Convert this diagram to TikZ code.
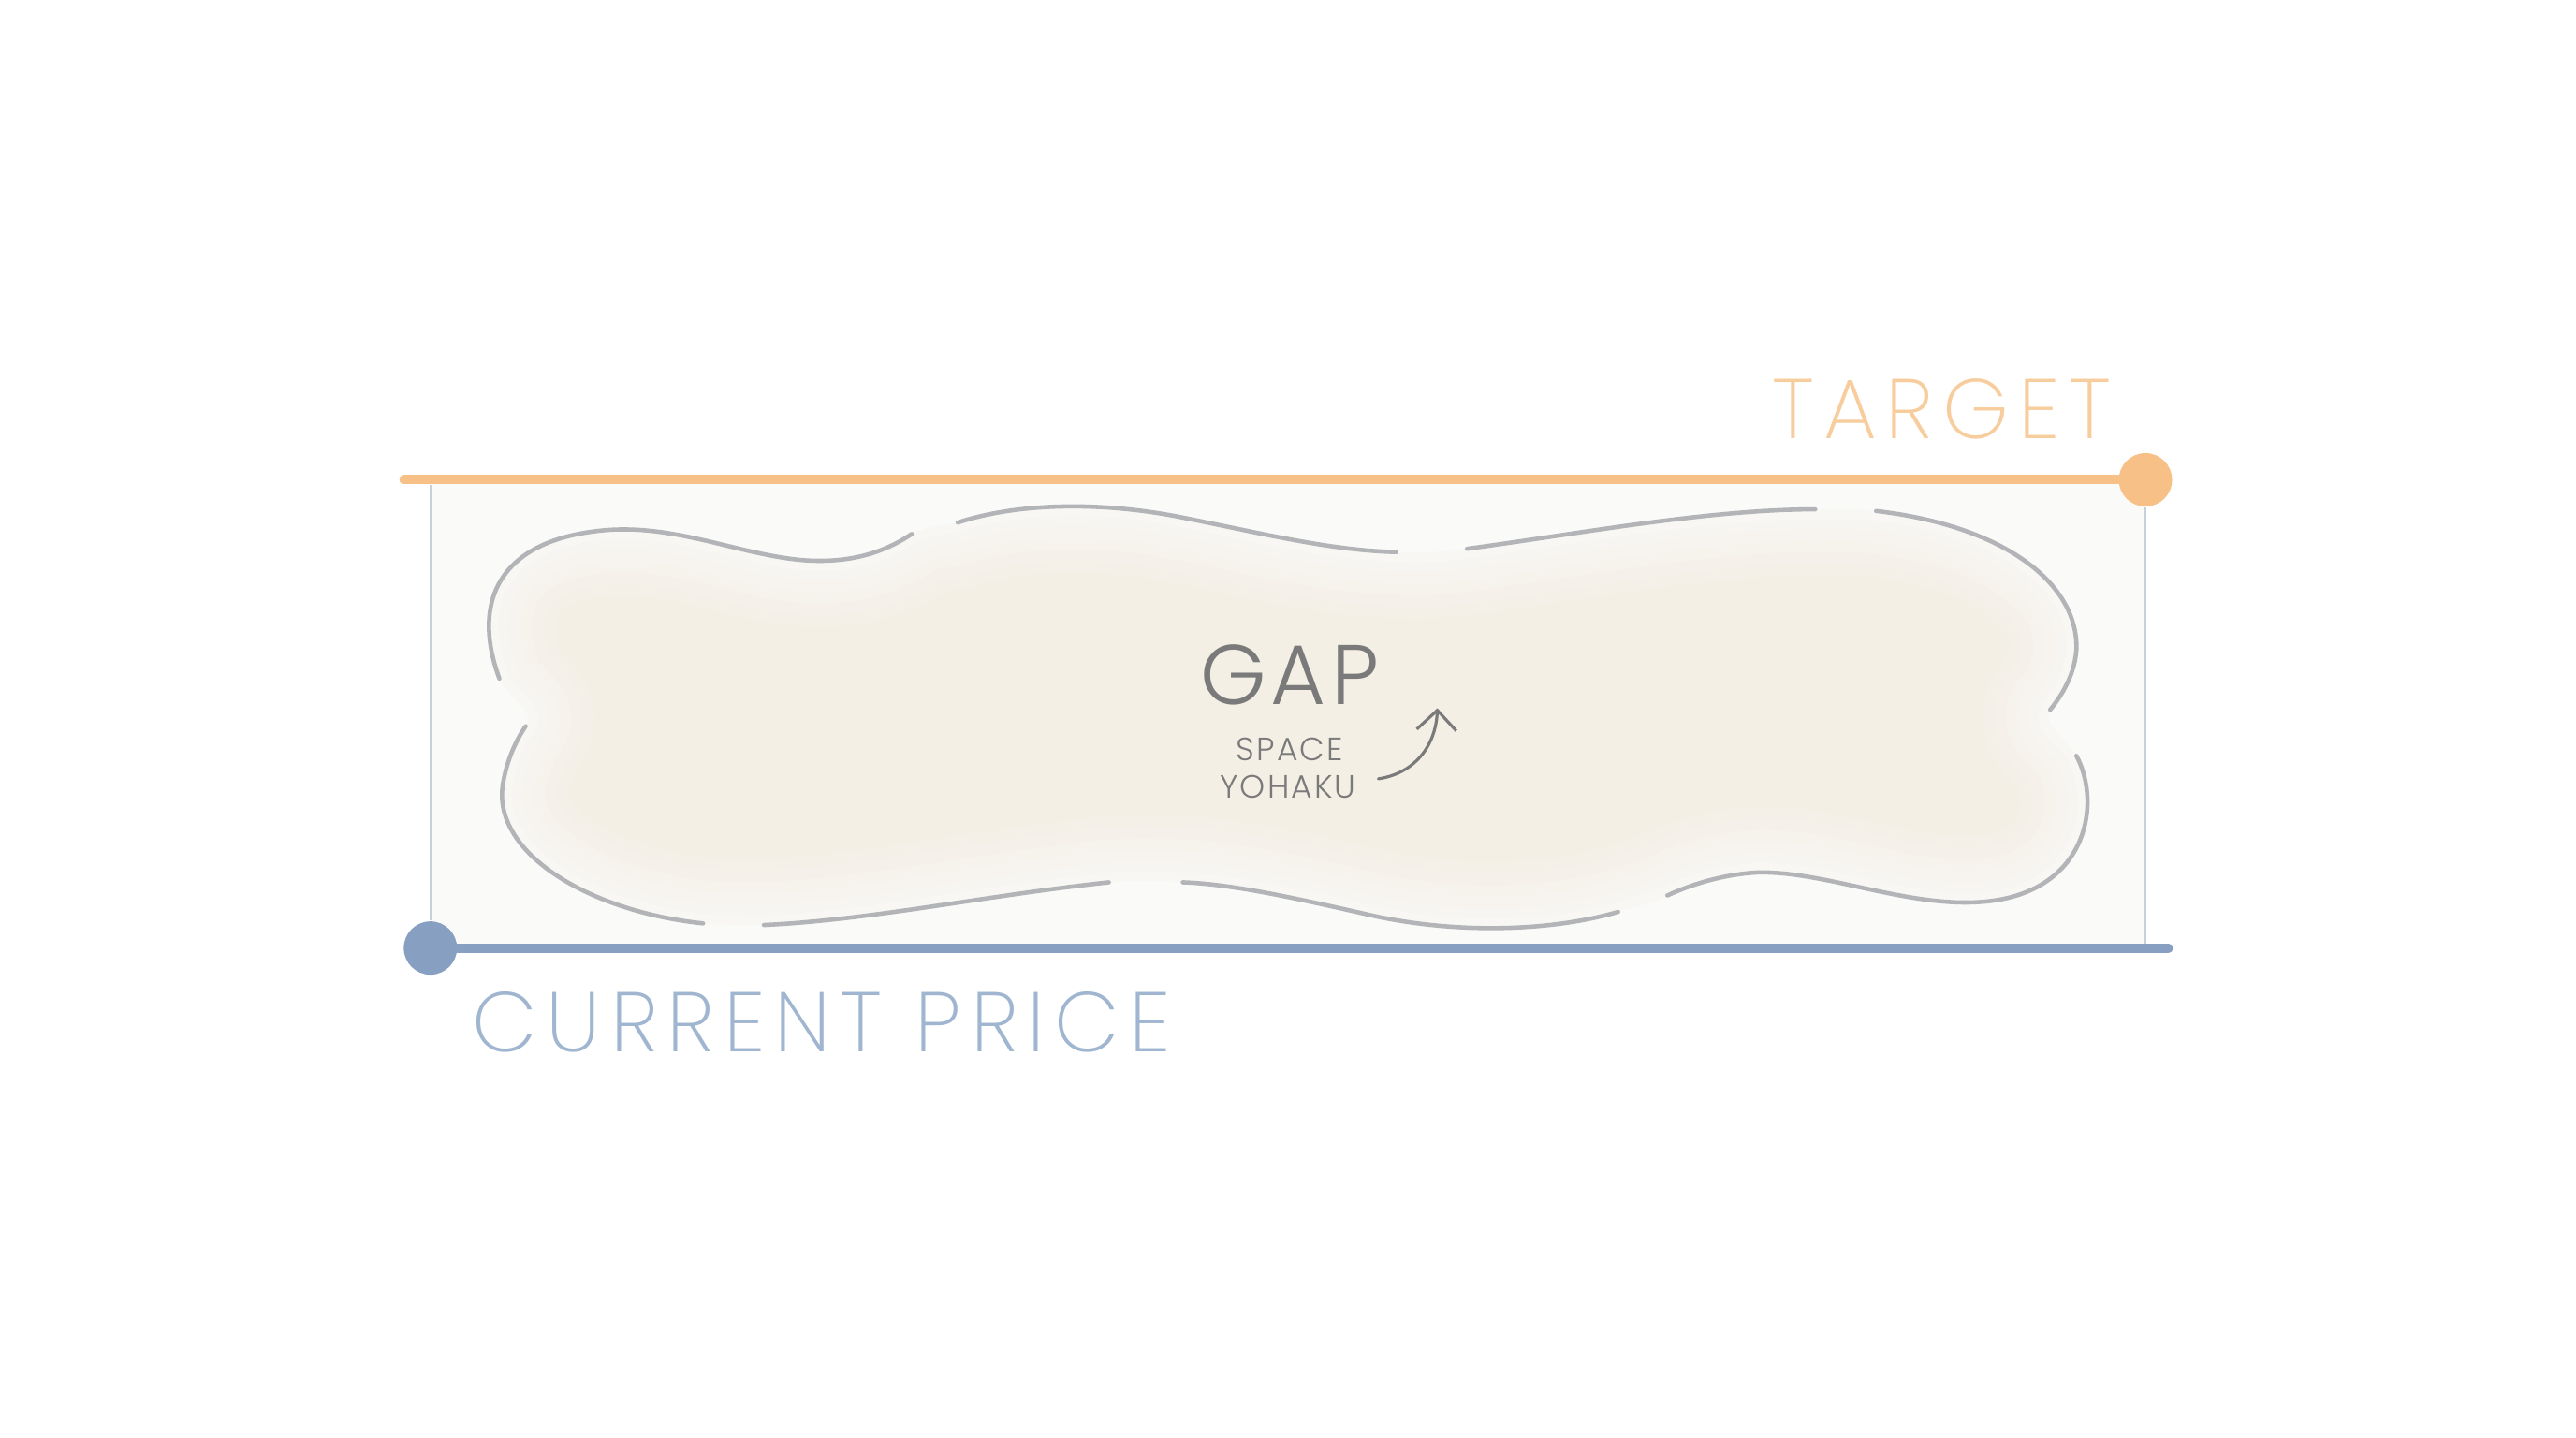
\documentclass[tikz,border=0pt]{standalone}
\usepackage{fontspec}
\usetikzlibrary{arrows.meta}
\IfFontExistsTF{Poppins Light}{\def\lname{Poppins Light}}{\def\lname{Poppins}}
\IfFontExistsTF{Poppins ExtraLight}{\def\xlname{Poppins ExtraLight}}{\let\xlname\lname}
\newfontfamily\bigfont{\xlname}[LetterSpace=11]
\newfontfamily\gapfont{\lname}[LetterSpace=6]
\newfontfamily\smallfont{\lname}[LetterSpace=6]
\definecolor{orangeline}{RGB}{246,192,135}
\definecolor{orangetext}{RGB}{248,205,158}
\definecolor{blueline}{RGB}{135,160,194}
\definecolor{bluetext}{RGB}{160,182,208}
\definecolor{cloudgray}{RGB}{178,180,184}
\definecolor{textgray}{RGB}{122,122,122}
\definecolor{boxbg}{RGB}{250,250,248}
\definecolor{blobfill}{RGB}{243,239,228}
\definecolor{guide}{RGB}{200,208,218}
\begin{document}
\begin{tikzpicture}[x=0.01755cm,y=-0.01755cm,
  priceline/.style={line width=2.85pt,line cap=round},
  enddot/.style={circle,inner sep=0pt,minimum size=16.2pt},
  guideline/.style={guide,line width=0.5pt},
  cloudseg/.style={cloudgray,line width=1.3pt,line cap=round},
  softedge/.style={boxbg,line join=round},
  bigtext/.style={inner sep=0pt,anchor=base,font=\bigfont\fontsize{25.7}{30}\selectfont},
  gaptext/.style={inner sep=0pt,anchor=base,text=textgray,font=\gapfont\fontsize{25.7}{30}\selectfont},
  smalltext/.style={inner sep=0pt,anchor=base,text=textgray,font=\smallfont\fontsize{9.8}{12}\selectfont},
  curvearrow/.style={textgray,line width=0.9pt,line cap=round,-{Straight Barb[length=6pt,width=12pt,line width=0.9pt]}}
]
\useasboundingbox (0,0) rectangle (1568.1,875.2);
\fill[white] (0,0) rectangle (1568.1,875.2);

% faint box
\fill[boxbg] (262,292) rectangle (1306,577);

% blob outline path (closed)
\def\blobpath{(304,413) .. controls (288,370) and (300,330) .. (365,323)
  .. controls (410,318) and (450,338) .. (490,341)
  .. controls (520,343) and (540,335) .. (555,325)
  .. controls (565,320) and (573,320) .. (583,318)
  .. controls (620,306) and (670,305) .. (720,315)
  .. controls (770,325) and (810,335) .. (850,336)
  .. controls (865,337) and (880,336) .. (893,334)
  .. controls (960,325) and (1040,310) .. (1105,310)
  .. controls (1118,310) and (1130,310) .. (1142,311)
  .. controls (1220,320) and (1265,355) .. (1264,395)
  .. controls (1263,410) and (1256,422) .. (1248,432)
  .. controls (1243,442) and (1258,450) .. (1264,460)
  .. controls (1280,490) and (1270,545) .. (1205,549)
  .. controls (1160,552) and (1110,530) .. (1070,531)
  .. controls (1050,532) and (1030,538) .. (1015,545)
  .. controls (1005,550) and (995,552) .. (985,555)
  .. controls (940,568) and (880,568) .. (830,556)
  .. controls (790,547) and (750,538) .. (720,537)
  .. controls (705,536) and (690,536) .. (675,537)
  .. controls (600,545) and (530,560) .. (465,563)
  .. controls (450,563) and (440,563) .. (428,562)
  .. controls (360,555) and (300,520) .. (306,478)
  .. controls (308,465) and (313,452) .. (320,442)
  .. controls (327,432) and (309,425) .. (304,413) -- cycle}

\begin{scope}
\clip (262,292) rectangle (1306,577);
\fill[blobfill] \blobpath;
\draw[softedge,line width=40pt,opacity=0.18] \blobpath;
\draw[softedge,line width=33pt,opacity=0.18] \blobpath;
\draw[softedge,line width=26pt,opacity=0.2] \blobpath;
\draw[softedge,line width=19pt,opacity=0.25] \blobpath;
\draw[softedge,line width=12pt,opacity=0.3] \blobpath;
\draw[softedge,line width=6pt,opacity=0.4] \blobpath;
\end{scope}

% dashed cloud outline (segments)
\draw[cloudseg] (304,413) .. controls (288,370) and (300,330) .. (365,323)
  .. controls (410,318) and (450,338) .. (490,341)
  .. controls (520,343) and (540,335) .. (555,325);
\draw[cloudseg] (583,318) .. controls (620,306) and (670,305) .. (720,315)
  .. controls (770,325) and (810,335) .. (850,336);
\draw[cloudseg] (893,334) .. controls (960,325) and (1040,310) .. (1105,310);
\draw[cloudseg] (1142,311) .. controls (1220,320) and (1265,355) .. (1264,395)
  .. controls (1263,410) and (1256,422) .. (1248,432);
\draw[cloudseg] (1264,460) .. controls (1280,490) and (1270,545) .. (1205,549)
  .. controls (1160,552) and (1110,530) .. (1070,531)
  .. controls (1050,532) and (1030,538) .. (1015,545);
\draw[cloudseg] (985,555) .. controls (940,568) and (880,568) .. (830,556)
  .. controls (790,547) and (750,538) .. (720,537);
\draw[cloudseg] (675,537) .. controls (600,545) and (530,560) .. (465,563);
\draw[cloudseg] (428,562) .. controls (360,555) and (300,520) .. (306,478)
  .. controls (308,465) and (313,452) .. (320,442);

% guides
\coordinate (ltop) at (262,295);
\coordinate (rbot) at (1306,577);
\node[enddot,fill=orangeline] (tdot) at (1306,292) {};
\node[enddot,fill=blueline] (cdot) at (262,577) {};
\draw[guideline] (ltop) -- (cdot.north);
\draw[guideline] (tdot.south) -- (rbot);

% price lines
\coordinate (tstart) at (246,292);
\coordinate (cend) at (1320,577);
\draw[priceline,orangeline] (tstart) -- (tdot);
\draw[priceline,blueline] (cdot) -- (cend);

% labels
\node[bigtext,text=orangetext] (target) at (1182,266.7) {TARGET};
\node[bigtext,text=bluetext] (current) at (500,640) {CURRENT PRICE};
\node[gaptext] (gap) at (785,429) {GAP};
\node[smalltext] (space) at (785,462.7) {SPACE};
\node[smalltext] (yohaku) at (784,485.5) {YOHAKU};

% arrow
\coordinate (arrstart) at (839,474);
\coordinate (arrtip) at (875,431);
\draw[curvearrow] (arrstart) .. controls (860,471) and (874,455) .. (arrtip);
\end{tikzpicture}
\end{document}
